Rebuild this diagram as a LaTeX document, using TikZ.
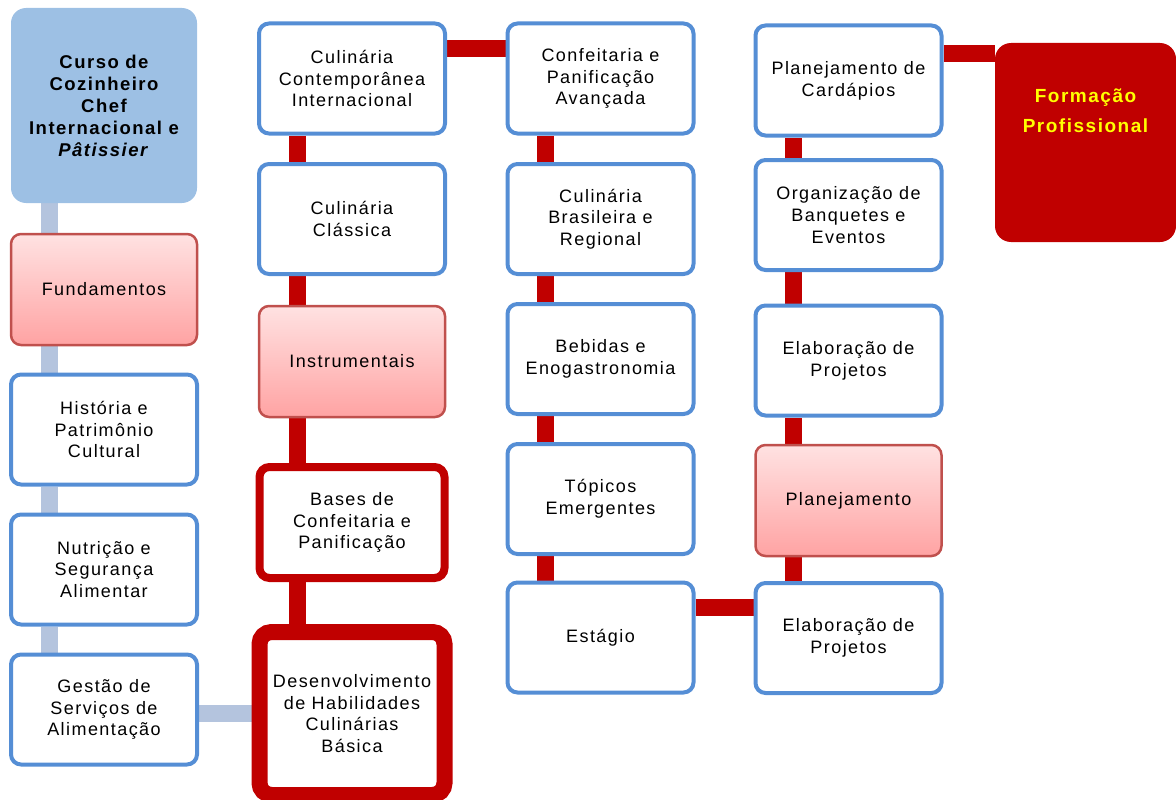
\documentclass[tikz,border=0pt]{standalone}
\usepackage{fontspec}
\setmainfont{Liberation Sans}[LetterSpace=8]
\usetikzlibrary{backgrounds}
\definecolor{boxblue}{RGB}{85,142,213}
\definecolor{linkred}{RGB}{192,0,0}
\definecolor{linkblue}{RGB}{180,196,222}
\definecolor{stagered}{RGB}{192,80,77}
\definecolor{pinktop}{RGB}{255,226,226}
\definecolor{pinkbot}{RGB}{255,163,163}
\definecolor{titleblue}{RGB}{157,192,228}
\definecolor{titleyellow}{RGB}{255,255,0}

\begin{document}
\begin{tikzpicture}[
    x=1pt, y=-1pt,
    unitbox/.style={rectangle, rounded corners=10pt, draw=boxblue, line width=4pt,
        fill=white, minimum width=186pt, minimum height=110pt, inner sep=0pt,
        align=center, font=\fontsize{18}{21.7}\selectfont},
    stagebox/.style={unitbox, draw=stagered, line width=2.5pt,
        top color=pinktop, bottom color=pinkbot, minimum height=111pt},
    corebox/.style={unitbox, draw=linkred, line width=8pt, minimum width=185pt,
        minimum height=111pt},
    basebox/.style={corebox, line width=16pt, rounded corners=12pt, minimum height=163pt},
    headbox/.style={rectangle, rounded corners=15pt, fill=titleblue, minimum width=186pt,
        minimum height=195pt, align=center, font=\fontsize{18.5}{22}\selectfont\bfseries},
    goalbox/.style={rectangle, rounded corners=16pt, fill=linkred, minimum width=181pt,
        minimum height=199pt},
    link/.style={line width=17pt, draw=linkred},
    softlink/.style={link, draw=linkblue}
]
    \useasboundingbox (0,0) rectangle (1176,800);
    \node[headbox] (curso) at (104,105.5) {Curso de\\Cozinheiro\\Chef\\Internacional e\\\textit{Pâtissier}};
    \node[stagebox] (fund) at (104,289.5) {Fundamentos};
    \node[unitbox] (hist) at (104,429.5) {História e\\Patrimônio\\Cultural};
    \node[unitbox] (nutr) at (104,569.5) {Nutrição e\\Segurança\\Alimentar};
    \node[unitbox] (gest) at (104,709.5) {Gestão de\\Serviços de\\Alimentação};
    \node[unitbox] (cont) at (352,78.5) {Culinária\\Contemporânea\\Internacional};
    \node[unitbox] (clas) at (352,219) {Culinária\\Clássica};
    \node[stagebox] (instr) at (352,361.5) {Instrumentais};
    \node[corebox] (bases) at (352,522.5) {Bases de\\Confeitaria e\\Panificação};
    \node[basebox] (desenv) at (352,713.5) {Desenvolvimento\\de Habilidades\\Culinárias\\Básica};
    \node[unitbox] (conf) at (600.5,78.5) {Confeitaria e\\Panificação\\Avançada};
    \node[unitbox] (bras) at (600.5,219) {Culinária\\Brasileira e\\Regional};
    \node[unitbox] (beb) at (600.5,359) {Bebidas e\\Enogastronomia};
    \node[unitbox] (topi) at (600.5,499) {Tópicos\\Emergentes};
    \node[unitbox] (estag) at (600.5,637.5) {Estágio};
    \node[unitbox] (card) at (848.5,80.5) {Planejamento de\\Cardápios};
    \node[unitbox] (org) at (848.5,215) {Organização de\\Banquetes e\\Eventos};
    \node[unitbox] (elab) at (848.5,360.5) {Elaboração de\\Projetos};
    \node[stagebox] (plan) at (848.5,500.5) {Planejamento};
    \node[unitbox] (proj) at (848.5,638) {Elaboração de\\Projetos};
    \node[goalbox, label={[yshift=32pt, text=titleyellow, align=center,
        font=\fontsize{19}{30}\selectfont\bfseries]center:{Formação\\Profissional}}]
        (form) at (1085.5,142.5) {};
    \begin{pgfonlayer}{background}
    \draw[softlink] ([xshift=-55pt]curso.south) -- ([xshift=-55pt]fund.north);
    \draw[softlink] ([xshift=-55pt]fund.south) -- ([xshift=-55pt]hist.north);
    \draw[softlink] ([xshift=-55pt]hist.south) -- ([xshift=-55pt]nutr.north);
    \draw[softlink] ([xshift=-55pt]nutr.south) -- ([xshift=-55pt]gest.north);
    \draw[softlink] ([yshift=-3.5pt]gest.east) -- ([yshift=-3.5pt]gest.east -| desenv.west);
    \draw[link] ([xshift=-55pt]desenv.north) -- ([xshift=-55pt]bases.south);
    \draw[link] ([xshift=-55pt]bases.north) -- ([xshift=-55pt]instr.south);
    \draw[link] ([xshift=-55pt]instr.north) -- ([xshift=-55pt]clas.south);
    \draw[link] ([xshift=-55pt]clas.north) -- ([xshift=-55pt]cont.south);
    \draw[link] ([yshift=30pt]cont.east) -- ([yshift=30pt]conf.west);
    \draw[link] ([xshift=-55.5pt]conf.south) -- ([xshift=-55.5pt]bras.north);
    \draw[link] ([xshift=-55.5pt]bras.south) -- ([xshift=-55.5pt]beb.north);
    \draw[link] ([xshift=-55.5pt]beb.south) -- ([xshift=-55.5pt]topi.north);
    \draw[link] ([xshift=-55.5pt]topi.south) -- ([xshift=-55.5pt]estag.north);
    \draw[link] ([yshift=30pt]estag.east) -- ([yshift=30.5pt]proj.west);
    \draw[link] ([xshift=-55.5pt]proj.north) -- ([xshift=-55.5pt]plan.south);
    \draw[link] ([xshift=-55.5pt]plan.north) -- ([xshift=-55.5pt]elab.south);
    \draw[link] ([xshift=-55.5pt]elab.north) -- ([xshift=-55.5pt]org.south);
    \draw[link] ([xshift=-55.5pt]org.north) -- ([xshift=-55.5pt]card.south);
    \draw[link] ([yshift=27pt]card.east) -- ([yshift=89pt]form.west);
    \end{pgfonlayer}
\end{tikzpicture}
\end{document}
